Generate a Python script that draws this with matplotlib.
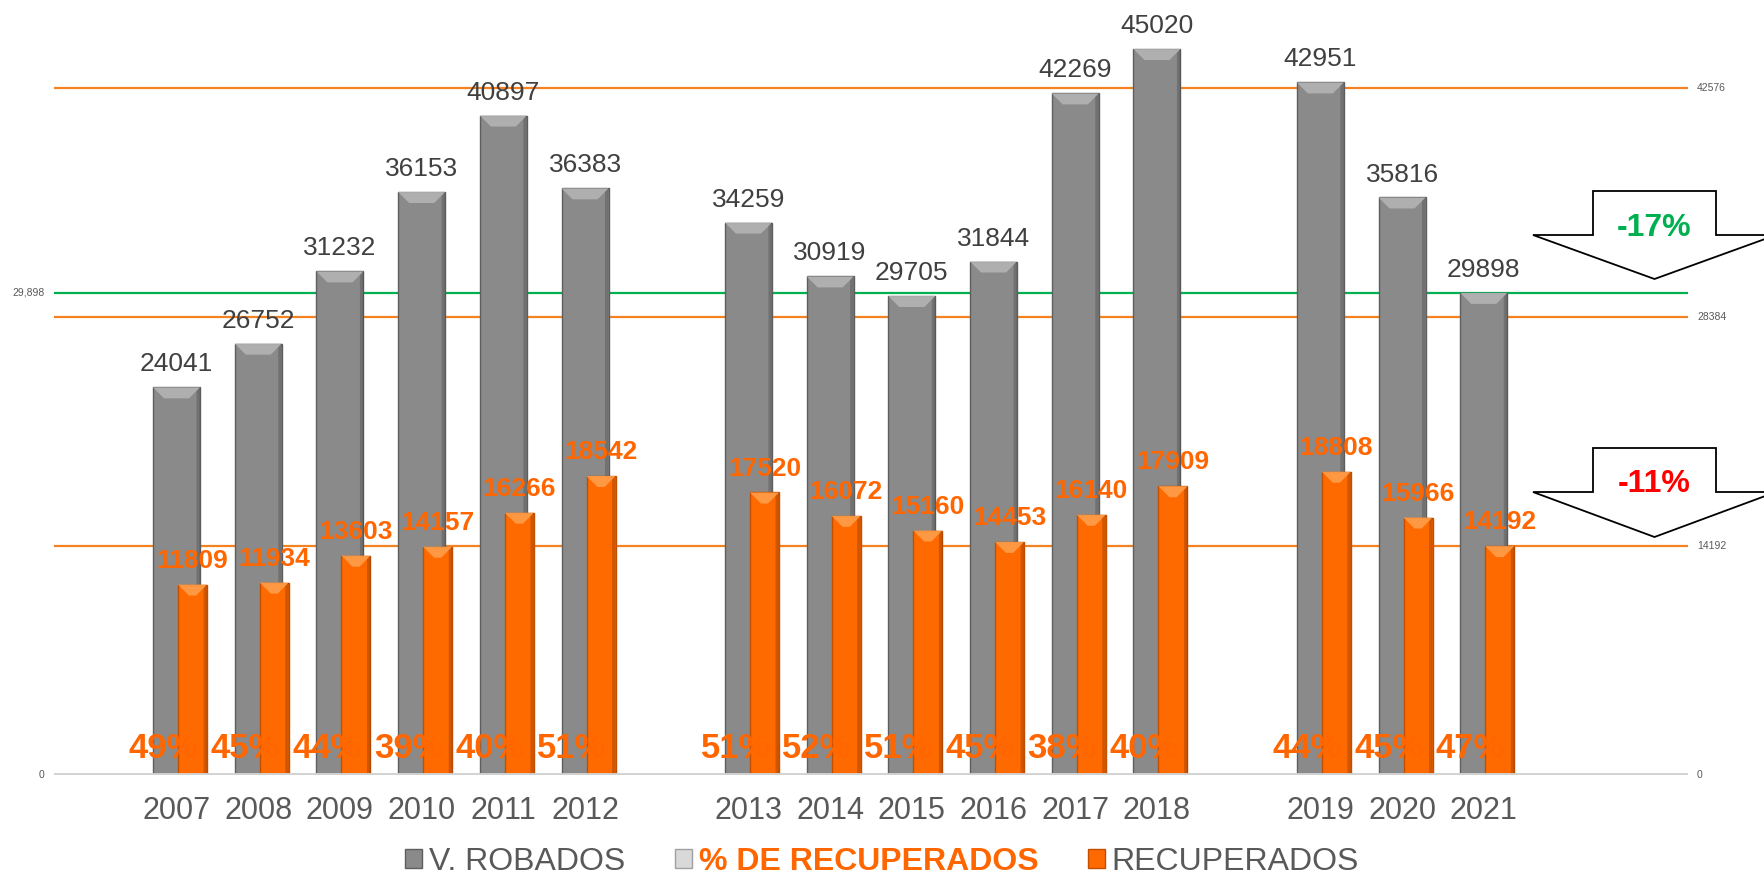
import matplotlib
matplotlib.use("Agg")
import matplotlib.pyplot as plt
from matplotlib.patches import Polygon, Patch

plt.rcParams['font.family'] = ['Liberation Sans', 'DejaVu Sans']

# ---------------- data ----------------
categories = ['', '2007', '2008', '2009', '2010', '2011', '2012', '',
              '2013', '2014', '2015', '2016', '2017', '2018', '',
              '2019', '2020', '2021', '', '']
years = ['2007', '2008', '2009', '2010', '2011', '2012',
         '2013', '2014', '2015', '2016', '2017', '2018',
         '2019', '2020', '2021']
robados = [24041, 26752, 31232, 36153, 40897, 36383,
           34259, 30919, 29705, 31844, 42269, 45020,
           42951, 35816, 29898]
recuperados = [11809, 11934, 13603, 14157, 16266, 18542,
               17520, 16072, 15160, 14453, 16140, 17909,
               18808, 15966, 14192]
pct_recuperados = [49, 45, 44, 39, 40, 51, 51, 52, 51, 45, 38, 40, 44, 45, 47]
orange_refs = [42576, 28384, 14192]
green_ref = 29898
right_labels = ['42576', '28384', '14192', '0']
right_label_vals = [42576, 28384, 14192, 0]
left_labels = ['29,898', '0']
left_label_vals = [29898, 0]
changes = ['-17%', '-11%']
legend_labels = ['V. ROBADOS', '% DE RECUPERADOS', 'RECUPERADOS']

# ---------------- style ----------------
GREY = '#8A8A8A'
GREY_EDGE = '#5E5E5E'
GREY_BEVEL = '#B4B4B4'
ORANGE = '#FF6A00'
ORANGE_EDGE = '#C24E00'
ORANGE_BEVEL = '#FF9E4A'
LABEL_ORANGE = '#FF6600'
TEXT_GREY = '#595959'
VAL_GREY = '#404040'
REF_ORANGE = '#F58220'
REF_GREEN = '#00B050'

W, H = 1764, 880
fig = plt.figure(figsize=(W / 100, H / 100), dpi=100)
ax = fig.add_axes([54 / W, 105 / H, 1634 / W, 774 / H])
ax.set_xlim(-0.5, len(categories) - 0.5)
ax.set_ylim(0, 48000)
for s in ax.spines.values():
    s.set_visible(False)

xpos = [categories.index(y) for y in years]

# reference lines
for v in orange_refs:
    ax.axhline(v, color=REF_ORANGE, lw=1.6, zorder=1)
ax.axhline(green_ref, color=REF_GREEN, lw=1.6, zorder=1)
ax.axhline(0, color='#D2D2D2', lw=3.5, zorder=4)

grey_w = 0.575
orange_w = 0.355
orange_off = 0.196

gbars = ax.bar(xpos, robados, width=grey_w, color=GREY, edgecolor=GREY_EDGE,
               linewidth=1.0, zorder=2)
obars = ax.bar([x + orange_off for x in xpos], recuperados, width=orange_w,
               color=ORANGE, edgecolor=ORANGE_EDGE, linewidth=1.0, zorder=3)

# bevel tops
px_per_slot = 1634 / len(categories)
px_per_unit = 774 / 48000
bev_x = 11 / px_per_slot
bev_y = 11 / px_per_unit
for bars, col, z in ((gbars, GREY_BEVEL, 2.1), (obars, ORANGE_BEVEL, 3.1)):
    for r in bars:
        x0, w, h = r.get_x(), r.get_width(), r.get_height()
        poly = Polygon([(x0, h), (x0 + w, h), (x0 + w - bev_x, h - bev_y),
                        (x0 + bev_x, h - bev_y)], closed=True,
                       facecolor=col, edgecolor='none', zorder=z, alpha=0.9)
        ax.add_patch(poly)
        shade = Polygon([(x0 + w - 3.5 / px_per_slot, 0), (x0 + w, 0), (x0 + w, h),
                         (x0 + w - 3.5 / px_per_slot, h - 3.5 / px_per_unit)],
                        closed=True, facecolor='black', alpha=0.18,
                        edgecolor='none', zorder=z)
        ax.add_patch(shade)

# value labels
for r, v in zip(gbars, robados):
    ax.text(r.get_x() + r.get_width() / 2, v + 990, str(v), ha='center',
            va='baseline', fontsize=19, color=VAL_GREY, zorder=6)
for r, v in zip(obars, recuperados):
    ax.text(r.get_x() + r.get_width() / 2, v + 1050, str(v), ha='center',
            va='baseline', fontsize=19, fontweight='bold', color=LABEL_ORANGE,
            zorder=6)
for x, p in zip(xpos, pct_recuperados):
    ax.text(x - 0.16, 1050, f'{p}%', ha='center', va='baseline', fontsize=25,
            fontweight='bold', color=LABEL_ORANGE, zorder=6)

# x tick labels
ax.set_xticks(xpos)
ax.set_xticklabels(years, fontsize=22, color=TEXT_GREY)
ax.tick_params(axis='x', length=0, pad=15)
ax.set_yticks([])

# side labels
ytr = ax.get_yaxis_transform()
for lab, v in zip(right_labels, right_label_vals):
    ax.text(1.0055, v, lab, transform=ytr, ha='left', va='center',
            fontsize=7.5, color=TEXT_GREY)
for lab, v in zip(left_labels, left_label_vals):
    ax.text(-0.006, v, lab, transform=ytr, ha='right', va='center',
            fontsize=7.5, color=TEXT_GREY)

# arrows (figure pixel coordinates, y from top)
def arrow(top, wing, tip):
    pts = [(1593, top), (1716, top), (1716, wing), (1776, wing),
           (1654.5, tip), (1533, wing), (1593, wing)]
    pts = [(x / W, 1 - y / H) for x, y in pts]
    fig.patches.append(Polygon(pts, closed=True, facecolor='white',
                               edgecolor='black', lw=1.3,
                               transform=fig.transFigure, zorder=5))

arrow(191, 235, 279)
arrow(448, 492, 537)
fig.text(1654.5 / W, 1 - 228 / H, changes[0], ha='center', va='center',
         fontsize=23, fontweight='bold', color=REF_GREEN, zorder=10)
fig.text(1654.5 / W, 1 - 484 / H, changes[1], ha='center', va='center',
         fontsize=23, fontweight='bold', color='#FF0000', zorder=10)

# legend
handles = [Patch(facecolor=GREY, edgecolor=GREY_EDGE),
           Patch(facecolor='#D9D9D9', edgecolor='#A0A0A0'),
           Patch(facecolor=ORANGE, edgecolor=ORANGE_EDGE)]
leg = fig.legend(handles, legend_labels, loc='center', ncol=3,
                 bbox_to_anchor=(882 / W, 1 - 862 / H), frameon=False,
                 fontsize=23, handlelength=0.55, handleheight=0.55,
                 handletextpad=0.2, columnspacing=1.55, borderaxespad=0,
                 borderpad=0)
for t in leg.get_texts():
    t.set_color(TEXT_GREY)
leg.get_texts()[1].set_color(LABEL_ORANGE)
leg.get_texts()[1].set_fontweight('bold')

fig.savefig('out.png', dpi=100)
